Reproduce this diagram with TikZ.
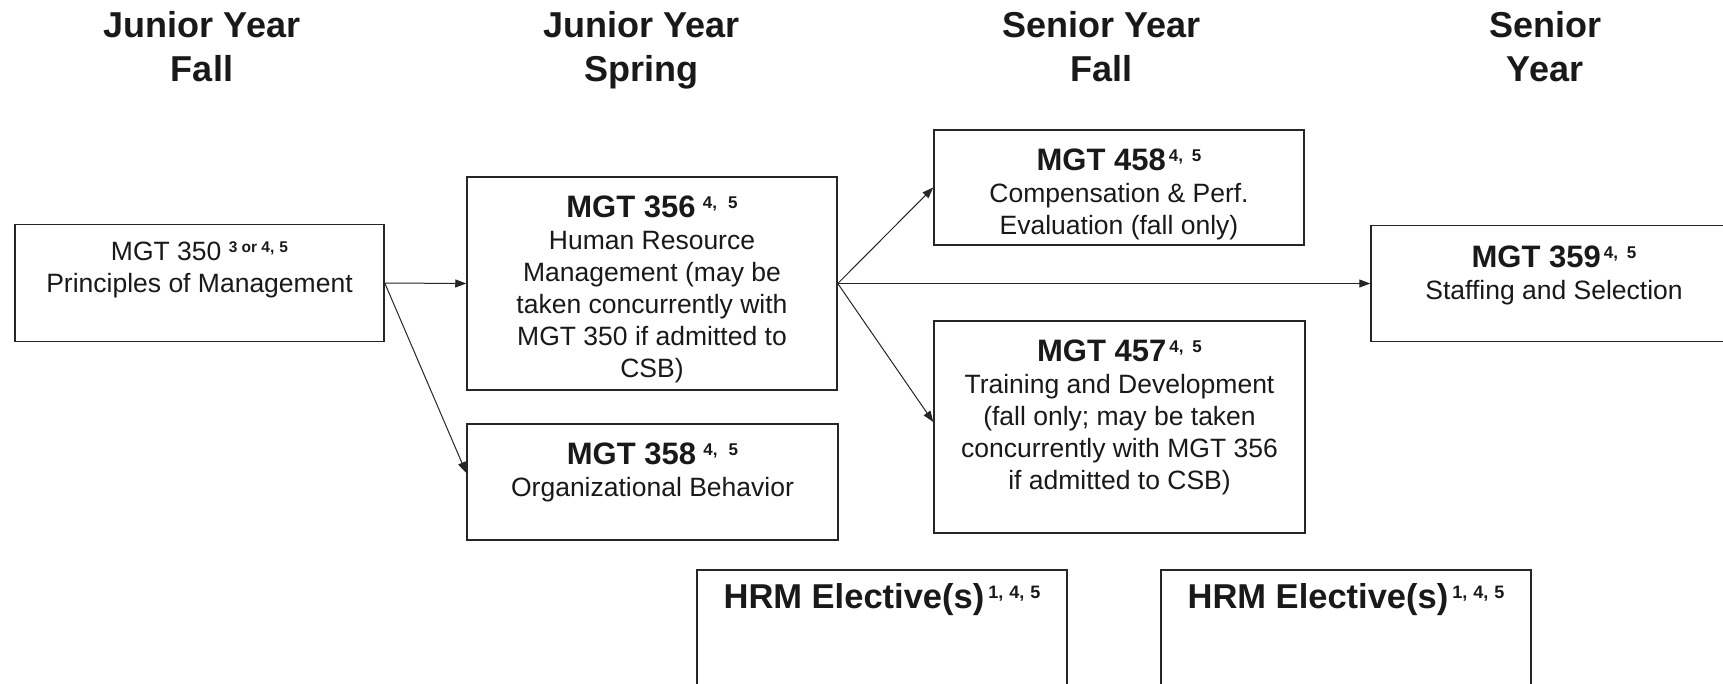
\documentclass[tikz,border=0pt]{standalone}
\usepackage{fontspec}
\setmainfont{Liberation Sans}
\usetikzlibrary{arrows.meta}
\newcommand\crsttl[1]{{\fontsize{31}{32}\selectfont\bfseries #1}}
\newcommand\crssup[1]{\raisebox{8.5pt}{\fontsize{17}{17}\selectfont\bfseries #1}}
\newcommand\firststrut{\rule{0pt}{23pt}}
\begin{document}
\begin{tikzpicture}[x=1pt,y=-1pt,
  box/.style={draw=black!85, line width=1.5pt, inner sep=0pt},
  txt/.style={inner sep=0pt, align=center, anchor=north, text=black!90,
    font=\fontsize{26.5}{32}\selectfont},
  hdr/.style={inner sep=0pt, align=center, anchor=north, text=black!90,
    font=\fontsize{36}{44}\selectfont\bfseries},
  arr/.style={draw=black!85, line width=1pt, -{Triangle[length=11pt,width=8pt]}}]
\useasboundingbox (0,0) rectangle (1723,683);
\clip (0,0) rectangle (1723,683);
\fill[white] (0,0) rectangle (1723,683);

% headers
\node[hdr] (h1) at (202,10) {\rule{0pt}{27pt}Junior Year\\Fall};
\node[hdr] (h2) at (641.5,10) {\rule{0pt}{27pt}Junior Year\\Spring};
\node[hdr] (h3) at (1101.5,10) {\rule{0pt}{27pt}Senior Year\\Fall};
\node[hdr] (h4) at (1545,10) {\rule{0pt}{27pt}Senior\\Year};

% boxes
\node[box, minimum width=369pt, minimum height=117pt] (b350) at (199.5,283) {};
\node[txt] (t350) at (199.5,237) {\firststrut MGT 350 \raisebox{8pt}{\fontsize{15.5}{15.5}\selectfont\bfseries 3 or 4,\kern5pt5}\\Principles of Management};

\node[box, minimum width=370pt, minimum height=213pt] (b356) at (652,283.5) {};
\node[txt] (t356) at (652,194) {\firststrut\crsttl{MGT 356} \crssup{4,\kern11pt5}\\Human Resource\\Management (may be\\taken concurrently with\\MGT 350 if admitted to\\CSB)};

\node[box, minimum width=371pt, minimum height=116pt] (b358) at (652.5,482) {};
\node[txt] (t358) at (652.5,441) {\firststrut\crsttl{MGT 358} \crssup{4,\kern11pt5}\\Organizational Behavior};

\node[box, minimum width=370pt, minimum height=115pt] (b458) at (1119,187.5) {};
\node[txt] (t458) at (1119,147) {\firststrut\crsttl{MGT 458}\kern3pt\crssup{4,\kern9pt5}\\Compensation \& Perf.\\Evaluation (fall only)};

\node[box, minimum width=371pt, minimum height=212pt] (b457) at (1119.5,427) {};
\node[txt] (t457) at (1119.5,338) {\firststrut\crsttl{MGT 457}\kern3pt\crssup{4,\kern9pt5}\\Training and Development\\(fall only; may be taken\\concurrently with MGT 356\\if admitted to CSB)};

\node[box, minimum width=366pt, minimum height=116pt] (b359) at (1554,283.5) {};
\node[txt] (t359) at (1554,244) {\firststrut\crsttl{MGT 359}\kern3pt\crssup{4,\kern9pt5}\\Staffing and Selection};

\node[box, minimum width=370pt, minimum height=116pt] (e1) at (882,628) {};
\node[txt] (te1) at (882,583) {\rule{0pt}{25pt}{\fontsize{34.5}{36}\selectfont\bfseries HRM Elective(s)}\kern4pt\raisebox{10pt}{\fontsize{18}{18}\selectfont\bfseries 1,\kern6pt4,\kern6pt5}};

\node[box, minimum width=370pt, minimum height=116pt] (e2) at (1346,628) {};
\node[txt] (te2) at (1346,583) {\rule{0pt}{25pt}{\fontsize{34.5}{36}\selectfont\bfseries HRM Elective(s)}\kern4pt\raisebox{10pt}{\fontsize{18}{18}\selectfont\bfseries 1,\kern6pt4,\kern6pt5}};

% arrows
\draw[arr] (b350.east) -- (b356.west);
\draw[arr] (b350.east) -- ([yshift=9pt]b358.west);
\draw[arr] (b356.east) -- (b458.west);
\draw[arr] (b356.east) -- (b359.west);
\draw[arr] (b356.east) -- ([yshift=5pt]b457.west);
\end{tikzpicture}
\end{document}
